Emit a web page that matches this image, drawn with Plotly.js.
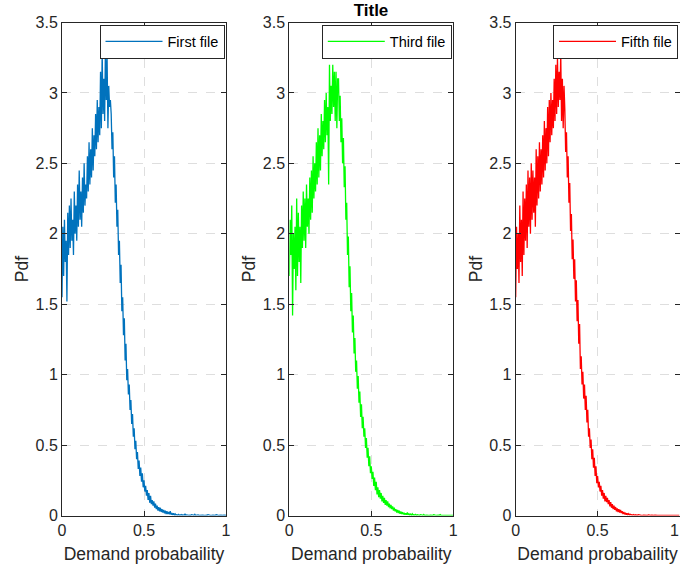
<!DOCTYPE html>
<html>
<head>
<meta charset="utf-8">
<script src="https://cdn.plot.ly/plotly-3.0.1.min.js"></script>
<style>html,body{margin:0;padding:0;background:#fff}#chart{width:680px;height:571px}</style>
</head>
<body>
<div id="chart"></div>
<script>
// Bin width of the pdf estimate (x = bin index * binWidth)
const binWidth = 0.005;

const seriesNames = ["First file", "Third file", "Fifth file"];
const seriesColors = ["#0072BD", "#00FF00", "#FF0000"];

const firstFile = [
  1.55, 2.05, 1.70, 2.10, 1.80, 1.95, 1.52, 2.15, 1.85, 2.20,
  1.90, 2.25, 1.95, 2.10, 1.85, 2.30, 2.00, 2.20, 1.95, 2.35,
  2.05, 2.45, 2.10, 2.30, 2.05, 2.40, 2.15, 2.50, 2.20, 2.35,
  2.25, 2.55, 2.30, 2.65, 2.35, 2.60, 2.40, 2.75, 2.45, 2.70,
  2.55, 2.85, 2.60, 2.95, 2.65, 2.90, 2.70, 3.15, 2.75, 3.30,
  2.85, 3.10, 2.80, 3.35, 2.95, 3.25, 2.75, 3.05, 2.90, 2.95,
  2.85, 2.60, 2.72, 2.40, 2.55, 2.22, 2.35, 2.05, 2.17, 1.85,
  1.95, 1.65, 1.78, 1.45, 1.55, 1.28, 1.40, 1.10, 1.22, 0.96,
  1.04, 0.86, 0.93, 0.75, 0.82, 0.65, 0.72, 0.56, 0.62, 0.47,
  0.53, 0.40, 0.45, 0.33, 0.39, 0.28, 0.34, 0.24, 0.30, 0.20,
  0.25, 0.17, 0.21, 0.14, 0.18, 0.11, 0.16, 0.09, 0.14, 0.08,
  0.11, 0.07, 0.10, 0.055, 0.085, 0.045, 0.07, 0.035, 0.06, 0.03,
  0.055, 0.025, 0.045, 0.02, 0.04, 0.015, 0.035, 0.01, 0.03, 0.01,
  0.025, 0.008, 0.03, 0.006, 0.018, 0.004, 0.015, 0.004, 0.012, 0.003,
  0.006, 0.002, 0.008, 0.001, 0.005, 0.002, 0.006, 0.001, 0.004, 0.001,
  0.010, 0.001, 0.004, 0.002, 0.005, 0.001, 0.003, 0.001, 0.006, 0.001,
  0.003, 0.001, 0.008, 0.001, 0.003, 0.002, 0.004, 0.001, 0.002, 0.001,
  0.005, 0.001, 0.002, 0.001, 0.004, 0.001, 0.003, 0.001, 0.006, 0.001,
  0.002, 0.001, 0.004, 0.001, 0.003, 0.001, 0.002, 0.001, 0.005, 0.001,
  0.002, 0.001, 0.003, 0.001, 0.002, 0.001, 0.003, 0.001, 0.002, 0.001,
  0.002
];

const thirdFile = [
  1.70, 2.10, 1.85, 2.20, 1.42, 2.00, 1.75, 2.05, 1.60, 2.25,
  1.70, 2.15, 1.80, 2.05, 1.65, 2.20, 1.90, 2.30, 1.95, 2.25,
  1.90, 2.35, 2.05, 2.25, 2.00, 2.40, 2.10, 2.45, 2.15, 2.55,
  2.25, 2.50, 2.30, 2.65, 2.35, 2.75, 2.40, 2.70, 2.45, 2.85,
  2.55, 2.80, 2.60, 2.95, 2.65, 3.00, 2.70, 2.90, 2.35, 3.20,
  2.80, 3.05, 2.85, 3.20, 2.90, 3.15, 2.80, 3.15, 2.75, 3.10,
  3.10, 2.80, 2.98, 2.65, 2.82, 2.50, 2.68, 2.33, 2.48, 2.10,
  2.22, 1.85, 1.98, 1.62, 1.77, 1.45, 1.58, 1.30, 1.42, 1.15,
  1.26, 1.02, 1.10, 0.90, 0.99, 0.80, 0.88, 0.70, 0.79, 0.62,
  0.70, 0.56, 0.62, 0.48, 0.55, 0.41, 0.48, 0.35, 0.42, 0.30,
  0.35, 0.26, 0.31, 0.21, 0.27, 0.18, 0.24, 0.15, 0.20, 0.13,
  0.18, 0.12, 0.16, 0.10, 0.14, 0.09, 0.125, 0.075, 0.11, 0.07,
  0.10, 0.06, 0.085, 0.05, 0.075, 0.045, 0.065, 0.035, 0.055, 0.03,
  0.045, 0.02, 0.04, 0.018, 0.035, 0.012, 0.028, 0.01, 0.024, 0.008,
  0.02, 0.006, 0.016, 0.005, 0.022, 0.004, 0.012, 0.003, 0.01, 0.002,
  0.012, 0.002, 0.006, 0.002, 0.008, 0.001, 0.005, 0.002, 0.004, 0.001,
  0.006, 0.001, 0.003, 0.001, 0.007, 0.001, 0.003, 0.001, 0.002, 0.001,
  0.004, 0.001, 0.002, 0.001, 0.003, 0.001, 0.005, 0.001, 0.002, 0.001,
  0.003, 0.001, 0.002, 0.001, 0.006, 0.001, 0.002, 0.001, 0.001, 0.001,
  0, 0, 0, 0, 0, 0, 0, 0, 0, 0,
  0
];

const fifthFile = [
  1.55, 2.05, 1.75, 2.00, 1.65, 2.20, 1.80, 2.10, 1.70, 2.30,
  1.85, 2.25, 1.95, 2.35, 1.90, 2.45, 2.05, 2.40, 2.00, 2.50,
  2.10, 2.45, 2.15, 2.40, 2.05, 2.60, 2.20, 2.55, 2.25, 2.65,
  2.30, 2.60, 2.35, 2.70, 2.40, 2.80, 2.45, 2.75, 2.50, 2.90,
  2.55, 2.95, 2.65, 3.00, 2.70, 2.95, 2.75, 3.10, 2.80, 3.20,
  2.85, 3.25, 2.90, 3.15, 2.95, 3.28, 2.80, 3.10, 2.75, 3.05,
  2.88, 2.58, 2.72, 2.40, 2.55, 2.22, 2.36, 2.02, 2.14, 1.82,
  1.96, 1.68, 1.82, 1.52, 1.67, 1.38, 1.53, 1.22, 1.36, 1.04,
  1.13, 0.93, 1.02, 0.83, 0.93, 0.75, 0.85, 0.66, 0.75, 0.56,
  0.62, 0.48, 0.54, 0.40, 0.47, 0.34, 0.41, 0.28, 0.35, 0.23,
  0.28, 0.20, 0.24, 0.17, 0.21, 0.14, 0.18, 0.12, 0.16, 0.10,
  0.14, 0.095, 0.125, 0.08, 0.11, 0.065, 0.095, 0.055, 0.08, 0.045,
  0.07, 0.04, 0.06, 0.03, 0.05, 0.025, 0.045, 0.02, 0.04, 0.018,
  0.03, 0.01, 0.025, 0.008, 0.02, 0.006, 0.016, 0.005, 0.013, 0.004,
  0.008, 0.003, 0.006, 0.002, 0.007, 0.002, 0.005, 0.001, 0.004, 0.001,
  0.006, 0.001, 0.003, 0.001, 0.004, 0.001, 0.002, 0.001, 0.003, 0.001,
  0.002, 0.001, 0.004, 0.001, 0.002, 0.001, 0.003, 0.001, 0.002, 0.001,
  0.003, 0.001, 0.002, 0.001, 0.001, 0.001, 0.002, 0.001, 0.001, 0.001,
  0.002, 0.001, 0.001, 0.001, 0.003, 0.001, 0.001, 0.001, 0.002, 0.001,
  0.001, 0, 0.001, 0, 0.001, 0, 0, 0, 0, 0,
  0
];

const xTickVals = [0, 0.5, 1];
const xTickText = ["0", "0.5", "1"];
const yTickVals = [0, 0.5, 1, 1.5, 2, 2.5, 3, 3.5];
const yTickText = ["0", "0.5", "1", "1.5", "2", "2.5", "3", "3.5"];

const xLabel = "Demand probabaility";
const yLabel = "Pdf";
const chartTitle = "Title";

const allSeries = [firstFile, thirdFile, fifthFile];
const FONT = "Liberation Sans, Arial, Helvetica, sans-serif";
const AX = "#262626";

const xDomains = [[62/680, 226/680], [289.3/680, 453.3/680], [515.7/680, 679.5/680]];
const yDomain = [1 - 515.5/571, 1 - 22.5/571];

const traces = allSeries.map((vals, k) => ({
  type: "scatter",
  mode: "lines",
  x: vals.map((_, i) => i * binWidth),
  y: vals,
  name: seriesNames[k],
  line: {color: seriesColors[k], width: 1.3},
  xaxis: k === 0 ? "x" : "x" + (k + 1),
  yaxis: k === 0 ? "y" : "y" + (k + 1),
  legend: k === 0 ? "legend" : "legend" + (k + 1),
  showlegend: true
}));

function xAxis(k) {
  // the last tick label of the right-most panel sits on the page edge;
  // it is drawn right-aligned as an annotation so it stays fully visible
  const last = k === 2;
  return {
    domain: xDomains[k], range: [0, 1], anchor: k === 0 ? "y" : "y" + (k + 1),
    tickvals: xTickVals, ticktext: last ? xTickText.map((t, i) => i === xTickText.length - 1 ? "" : t) : xTickText,
    ticks: "inside", ticklen: 5, tickcolor: AX,
    showline: true, linecolor: AX, linewidth: 1, mirror: "ticks",
    showgrid: true, gridcolor: "#dedede", griddash: "dash", gridwidth: 1,
    zeroline: false, automargin: false,
    tickfont: {family: FONT, size: 16, color: AX},
    title: {text: xLabel, font: {family: FONT, size: 17.5, color: AX}, standoff: 10}
  };
}
function yAxis(k) {
  return {
    domain: yDomain, range: [0, 3.5], anchor: k === 0 ? "x" : "x" + (k + 1),
    tickvals: yTickVals, ticktext: yTickText, ticks: "inside", ticklen: 5, tickcolor: AX,
    showline: true, linecolor: AX, linewidth: 1, mirror: "ticks",
    showgrid: true, gridcolor: "#dedede", griddash: "dash", gridwidth: 1,
    zeroline: false, automargin: false,
    tickfont: {family: FONT, size: 16, color: AX},
    title: {text: yLabel, font: {family: FONT, size: 17.5, color: AX}, standoff: 2}
  };
}
function legendBox(k) {
  return {
    x: xDomains[k][1] - 1.5/680, xanchor: "right",
    y: 1 - 24.5/571, yanchor: "top",
    bgcolor: "#ffffff", bordercolor: AX, borderwidth: 1,
    font: {family: FONT, size: 14.5, color: "#000"},
    itemwidth: 57
  };
}

const layout = {
  width: 680, height: 571,
  margin: {l: 0, r: 0, t: 0, b: 0},
  paper_bgcolor: "#ffffff", plot_bgcolor: "#ffffff",
  font: {family: FONT, color: AX},
  title: {text: "<b>" + chartTitle + "</b>", x: 371/680, xanchor: "center",
          y: 1 - 10/571, yanchor: "middle", yref: "container",
          font: {family: FONT, size: 17, color: "#000"}},
  xaxis: xAxis(0), xaxis2: xAxis(1), xaxis3: xAxis(2),
  yaxis: yAxis(0), yaxis2: yAxis(1), yaxis3: yAxis(2),
  legend: legendBox(0), legend2: legendBox(1), legend3: legendBox(2),
  annotations: [{
    text: xTickText[xTickText.length - 1],
    xref: "x3", x: xTickVals[xTickVals.length - 1], xanchor: "right",
    yref: "paper", y: yDomain[0], yanchor: "middle", yshift: -14.5,
    showarrow: false, borderpad: 0,
    font: {family: FONT, size: 16, color: AX}
  }]
};

Plotly.newPlot("chart", traces, layout, {displayModeBar: false, staticPlot: true});
</script>
</body>
</html>
